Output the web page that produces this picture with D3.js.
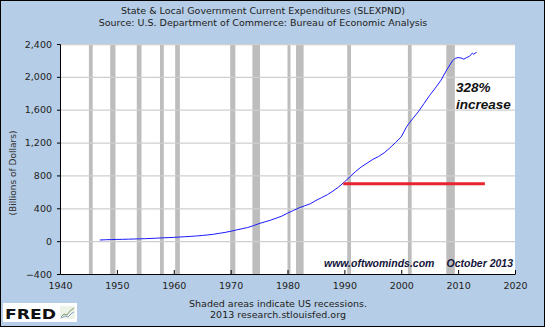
<!DOCTYPE html>
<html><head><meta charset="utf-8">
<script src="https://cdn.jsdelivr.net/npm/d3@7"></script>
<style>
html,body{margin:0;padding:0;background:#fff;}
svg{display:block;}
</style></head>
<body>
<svg id="chart" width="545" height="327"></svg>
<script>
// ---- data ----
const years = [1947,1948,1949,1950,1951,1952,1953,1954,1955,1956,1957,1958,1959,1960,1961,1962,1963,1964,1965,1966,1967,1968,1969,1970,1971,1972,1973,1974,1975,1976,1977,1978,1979,1980,1981,1982,1983,1984,1985,1986,1987,1988,1989,1990,1991,1992,1993,1994,1995,1996,1997,1998,1999,2000,2001,2002,2003,2004,2005,2006,2007,2008,2009,2009.5,2010,2010.5,2011,2011.5,2012,2012.5,2012.75,2013,2013.25];
const values = [14,17,19,21,22,24,26,28,30,33,36,40,43,46,50,54,58,63,69,76,84,95,106,120,136,151,166,188,214,234,255,279,305,340,372,404,430,455,495,530,565,610,660,720,785,850,905,950,995,1030,1075,1135,1200,1270,1400,1490,1575,1675,1775,1865,1960,2085,2195,2225,2235,2230,2215,2235,2250,2290,2275,2290,2295];
const recessions = [[1945.08,1945.75],[1948.83,1949.75],[1953.5,1954.33],[1957.58,1958.25],[1960.25,1961.08],[1969.92,1970.83],[1973.83,1975.17],[1980.0,1980.5],[1981.5,1982.83],[1990.5,1991.17],[2001.17,2001.83],[2007.92,2009.42]];
const xTicks = [1940,1950,1960,1970,1980,1990,2000,2010,2020];
const yTicks = [-400,0,400,800,1200,1600,2000,2400];
const refLevel = 700;           // red horizontal line value
const refSpan = [1989.8,2014.7];  // red line extent (years)
const titleLines = ["State & Local Government Current Expenditures (SLEXPND)","Source: U.S. Department of Commerce: Bureau of Economic Analysis"];
const footerLines = ["Shaded areas indicate US recessions.","2013 research.stlouisfed.org"];
const annotation = ["328%","increase"];
const credit = ["www.oftwominds.com","October 2013"];

// ---- drawing ----
const W=545,H=327;
const svg=d3.select("#chart");
const L=60,R=515,T=44,B=274;
svg.append("rect").attr("x",0.5).attr("y",0.5).attr("width",W-1).attr("height",H-1)
  .attr("fill","#b5cde6").attr("stroke","#000");

const x=d3.scaleLinear().domain([1940,2020]).range([L,R]);
const y=d3.scaleLinear().domain([-400,2400]).range([B,T]);

svg.append("rect").attr("x",L).attr("y",T).attr("width",R-L).attr("height",B-T).attr("fill","#fff");

svg.append("g").selectAll("rect").data(recessions).join("rect")
  .attr("x",d=>x(d[0])).attr("y",T).attr("width",d=>Math.max(3,x(d[1])-x(d[0]))).attr("height",B-T)
  .attr("fill","#bdbdbd");

svg.append("g").selectAll("line").data(yTicks.filter(v=>v>-400)).join("line")
  .attr("x1",L).attr("x2",R).attr("y1",d=>y(d)+0.5).attr("y2",d=>y(d)+0.5)
  .attr("stroke","#cfcfcf").attr("stroke-width",1.3);

const line=d3.line().x((d,i)=>x(years[i])).y(d=>y(d));
svg.append("path").datum(values).attr("d",line).attr("fill","none")
  .attr("stroke","#1a1aff").attr("stroke-width",1);

svg.append("line").attr("x1",x(refSpan[0])).attr("x2",x(refSpan[1]))
  .attr("y1",y(refLevel)).attr("y2",y(refLevel)).attr("stroke","#e8242c").attr("stroke-width",3);

const fontV="'DejaVu Sans', Verdana, sans-serif";
const ya=svg.append("g").attr("transform",`translate(${L},0)`)
  .call(d3.axisLeft(y).tickValues(yTicks).tickFormat(d3.format(",")).tickSize(3).tickPadding(5));
ya.selectAll("text").attr("font-family",fontV).attr("font-size",9.5).attr("fill","#222");
ya.selectAll("line,path").attr("stroke","#000");

const xa=svg.append("g").attr("transform",`translate(0,${B})`)
  .call(d3.axisBottom(x).tickValues(xTicks).tickFormat(d3.format("d")).tickSizeInner(-4).tickSizeOuter(0).tickPadding(8));
xa.selectAll("text").attr("font-family",fontV).attr("font-size",9.5).attr("fill","#222");
xa.selectAll("line,path").attr("stroke","#000");

svg.append("text").attr("transform",`translate(16,${(T+B)/2+14}) rotate(-90)`)
  .attr("text-anchor","middle").attr("font-family",fontV).attr("font-size",9).attr("fill","#333")
  .text("(Billions of Dollars)");

svg.selectAll("text.title").data(titleLines).join("text").attr("class","title")
  .attr("x",263).attr("y",(d,i)=>14+i*11.5).attr("text-anchor","middle")
  .attr("font-family",fontV).attr("font-size",9.5).attr("fill","#222").text(d=>d);

svg.selectAll("text.foot").data(footerLines).join("text").attr("class","foot")
  .attr("x",278).attr("y",(d,i)=>306.5+i*11.5).attr("text-anchor","middle")
  .attr("font-family",fontV).attr("font-size",9.5).attr("fill","#222").text(d=>d);

svg.selectAll("text.ann").data(annotation).join("text").attr("class","ann")
  .attr("x",456).attr("y",(d,i)=>92+i*16.5)
  .attr("font-family","'Liberation Sans', Arial, sans-serif").attr("font-weight","bold").attr("font-style","italic")
  .attr("font-size",13.5).attr("fill","#111").text(d=>d);

svg.append("text").attr("x",324).attr("y",267)
  .attr("font-family","'Liberation Sans', Arial, sans-serif").attr("font-weight","bold").attr("font-style","italic")
  .attr("font-size",10.5).attr("fill","#14143a").text(credit[0]);
svg.append("text").attr("x",446.5).attr("y",267)
  .attr("font-family","'Liberation Sans', Arial, sans-serif").attr("font-weight","bold").attr("font-style","italic")
  .attr("font-size",10.5).attr("fill","#14143a").text(credit[1]);

// FRED logo
const lg=svg.append("g");
lg.append("rect").attr("x",3).attr("y",303).attr("width",74).attr("height",19).attr("fill","#fff");
lg.append("text").attr("x",5).attr("y",318.5).attr("font-family","'DejaVu Sans', sans-serif").attr("font-weight","bold")
  .attr("font-size",14).attr("textLength",51).attr("lengthAdjust","spacingAndGlyphs").attr("fill","#111").text("FRED");
lg.append("rect").attr("x",60).attr("y",306).attr("width",15).attr("height",13).attr("fill","#eef3e8");
lg.append("path").attr("d","M61,317 L64,314 L67,315 L70,311 L74,308").attr("fill","none").attr("stroke","#7a9a6a").attr("stroke-width",1);
lg.append("path").attr("d","M61,318 L65,316 L68,317 L72,313 L74,312").attr("fill","none").attr("stroke","#8aa0c8").attr("stroke-width",1);
</script>
</body></html>
